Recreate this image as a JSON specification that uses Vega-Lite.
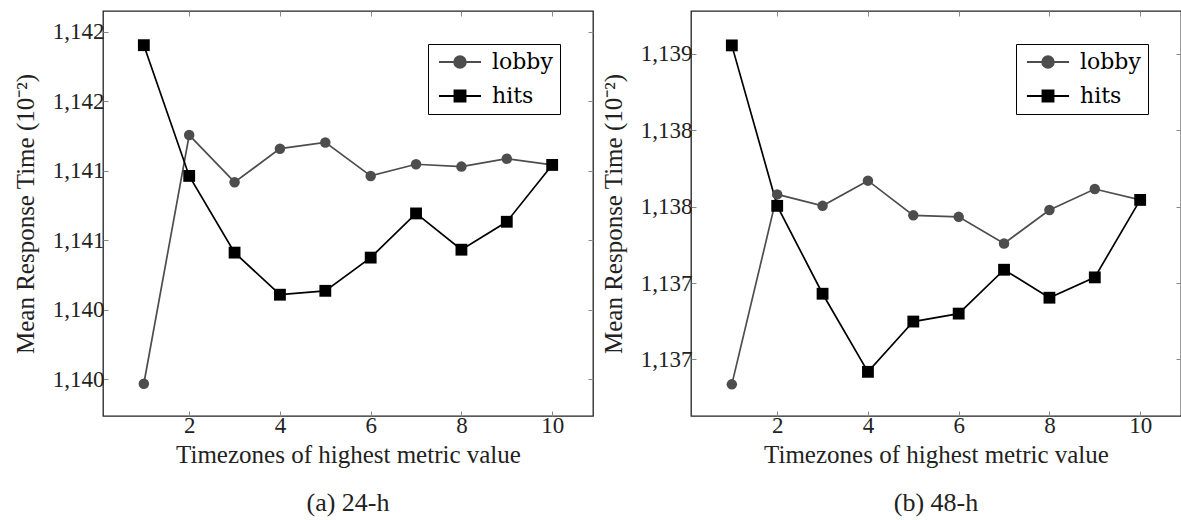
{
  "$schema": "https://vega.github.io/schema/vega-lite/v6.json",
  "padding": {"left": 12, "top": 9, "right": 0, "bottom": 0},
  "config": {
    "font": "Liberation Serif, Times New Roman, serif",
    "view": {"stroke": "#222222", "strokeWidth": 1.3},
    "axis": {
      "grid": false, "domain": false, "tickColor": "#888888", "tickSize": -5, "tickWidth": 1,
      "labelFont": "Liberation Serif, Times New Roman, serif", "labelFontSize": 23, "labelColor": "#222222",
      "titleFont": "Liberation Serif, Times New Roman, serif", "titleFontSize": 25, "titleFontWeight": "normal", "titleColor": "#222222"
    },
    "legend": {"labelFont": "DejaVu Serif"},
    "title": {"font": "Liberation Serif, Times New Roman, serif", "fontSize": 26, "fontWeight": "normal", "color": "#222222"}
  },
  "datasets": {
    "a": [
      {"zone": 1, "series": "lobby", "value": 1139.467},
      {"zone": 2, "series": "lobby", "value": 1141.257},
      {"zone": 3, "series": "lobby", "value": 1140.918},
      {"zone": 4, "series": "lobby", "value": 1141.159},
      {"zone": 5, "series": "lobby", "value": 1141.204},
      {"zone": 6, "series": "lobby", "value": 1140.963},
      {"zone": 7, "series": "lobby", "value": 1141.047},
      {"zone": 8, "series": "lobby", "value": 1141.030},
      {"zone": 9, "series": "lobby", "value": 1141.087},
      {"zone": 10, "series": "lobby", "value": 1141.042},
      {"zone": 1, "series": "hits", "value": 1141.904},
      {"zone": 2, "series": "hits", "value": 1140.963},
      {"zone": 3, "series": "hits", "value": 1140.411},
      {"zone": 4, "series": "hits", "value": 1140.108},
      {"zone": 5, "series": "hits", "value": 1140.136},
      {"zone": 6, "series": "hits", "value": 1140.375},
      {"zone": 7, "series": "hits", "value": 1140.693},
      {"zone": 8, "series": "hits", "value": 1140.432},
      {"zone": 9, "series": "hits", "value": 1140.633},
      {"zone": 10, "series": "hits", "value": 1141.042}
    ],
    "b": [
      {"zone": 1, "series": "lobby", "value": 1136.837},
      {"zone": 2, "series": "lobby", "value": 1138.080},
      {"zone": 3, "series": "lobby", "value": 1138.005},
      {"zone": 4, "series": "lobby", "value": 1138.170},
      {"zone": 5, "series": "lobby", "value": 1137.943},
      {"zone": 6, "series": "lobby", "value": 1137.933},
      {"zone": 7, "series": "lobby", "value": 1137.759},
      {"zone": 8, "series": "lobby", "value": 1137.978},
      {"zone": 9, "series": "lobby", "value": 1138.115},
      {"zone": 10, "series": "lobby", "value": 1138.044},
      {"zone": 1, "series": "hits", "value": 1139.055},
      {"zone": 2, "series": "hits", "value": 1138.005},
      {"zone": 3, "series": "hits", "value": 1137.430},
      {"zone": 4, "series": "hits", "value": 1136.919},
      {"zone": 5, "series": "hits", "value": 1137.248},
      {"zone": 6, "series": "hits", "value": 1137.300},
      {"zone": 7, "series": "hits", "value": 1137.587},
      {"zone": 8, "series": "hits", "value": 1137.404},
      {"zone": 9, "series": "hits", "value": 1137.537},
      {"zone": 10, "series": "hits", "value": 1138.044}
    ]
  },
  "spacing": 5,
  "resolve": {"scale": {"x": "independent", "y": "independent", "color": "independent"}, "legend": {"color": "independent"}},
  "hconcat": [
    {
      "width": 490, "height": 405,
      "data": {"name": "a"},
      "title": {"text": "(a) 24-h", "orient": "bottom", "offset": 23},
      "resolve": {"axis": {"x": "independent", "y": "independent"}},
      "layer": [
        {
          "mark": {"type": "line", "strokeWidth": 1.7},
          "encoding": {
            "x": {"field": "zone", "type": "quantitative", "scale": {"domain": [0.1, 10.9], "nice": false, "zero": false},
                  "axis": {"values": [2, 4, 6, 8, 10], "title": "Timezones of highest metric value", "labelPadding": 3, "titlePadding": 5}},
            "y": {"field": "value", "type": "quantitative", "scale": {"domain": [1139.235, 1142.15], "nice": false, "zero": false},
                  "axis": {"values": [1139.5, 1140, 1140.5, 1141, 1141.5, 1142], "labelExpr": "format(datum.value + 0.001, ',.0f')", "title": "Mean Response Time (10⁻²)", "labelPadding": 4, "titlePadding": 14}},
            "color": {"field": "series", "type": "nominal", "scale": {"domain": ["lobby", "hits"], "range": ["#4d4d4d", "#000000"]},
              "legend": {
                "orient": "none", "legendX": 325, "legendY": 33, "title": null,
                "symbolType": "stroke", "symbolSize": 137, "symbolStrokeWidth": 1.8, "symbolOffset": 14,
                "labelOffset": 21, "labelFont": "DejaVu Serif", "labelFontSize": 22, "labelColor": "#000000", "labelLimit": 200,
                "padding": 7, "rowPadding": 12, "strokeColor": "#000000", "fillColor": "#ffffff", "zindex": 5,
                "encoding": {
                  "symbols": {
                    "shape": {"condition": {"test": "datum.value === 'lobby'", "value": "M-3.6,0H3.6M1,0A1,1,0,1,1,-1,0A1,1,0,1,1,1,0Z"}, "value": "M-3.6,0H3.6M-0.95,-0.95H0.95V0.95H-0.95Z"},
                    "fill": {"condition": {"test": "datum.value === 'lobby'", "value": "#4d4d4d"}, "value": "#000000"}
                  }
                }
              }
            }
          }
        },
        {
          "transform": [{"filter": "datum.series === 'lobby'"}],
          "mark": {"type": "point", "shape": "circle", "filled": true, "size": 110, "color": "#4d4d4d", "opacity": 1},
          "encoding": {
            "x": {"field": "zone", "type": "quantitative", "axis": {"orient": "top", "labels": false, "title": null, "values": [2, 4, 6, 8, 10]}},
            "y": {"field": "value", "type": "quantitative", "axis": {"orient": "right", "labels": false, "title": null, "values": [1139.5, 1140, 1140.5, 1141, 1141.5, 1142]}}
          }
        },
        {
          "transform": [{"filter": "datum.series === 'hits'"}],
          "mark": {"type": "point", "shape": "square", "filled": true, "size": 140, "color": "#000000", "opacity": 1},
          "encoding": {
            "x": {"field": "zone", "type": "quantitative", "axis": null},
            "y": {"field": "value", "type": "quantitative", "axis": null}
          }
        }
      ]
    },
    {
      "width": 490, "height": 405,
      "data": {"name": "b"},
      "title": {"text": "(b) 48-h", "orient": "bottom", "offset": 23},
      "resolve": {"axis": {"x": "independent", "y": "independent"}},
      "layer": [
        {
          "mark": {"type": "line", "strokeWidth": 1.7},
          "encoding": {
            "x": {"field": "zone", "type": "quantitative", "scale": {"domain": [0.1, 10.9], "nice": false, "zero": false},
                  "axis": {"values": [2, 4, 6, 8, 10], "title": "Timezones of highest metric value", "labelPadding": 3, "titlePadding": 5}},
            "y": {"field": "value", "type": "quantitative", "scale": {"domain": [1136.63, 1139.28], "nice": false, "zero": false},
                  "axis": {"values": [1137, 1137.5, 1138, 1138.5, 1139], "labelExpr": "format(datum.value - 0.001, ',.0f')", "title": "Mean Response Time (10⁻²)", "labelPadding": 4, "titlePadding": 14}},
            "color": {"field": "series", "type": "nominal", "scale": {"domain": ["lobby", "hits"], "range": ["#4d4d4d", "#000000"]},
              "legend": {
                "orient": "none", "legendX": 325, "legendY": 33, "title": null,
                "symbolType": "stroke", "symbolSize": 137, "symbolStrokeWidth": 1.8, "symbolOffset": 14,
                "labelOffset": 21, "labelFont": "DejaVu Serif", "labelFontSize": 22, "labelColor": "#000000", "labelLimit": 200,
                "padding": 7, "rowPadding": 12, "strokeColor": "#000000", "fillColor": "#ffffff", "zindex": 5,
                "encoding": {
                  "symbols": {
                    "shape": {"condition": {"test": "datum.value === 'lobby'", "value": "M-3.6,0H3.6M1,0A1,1,0,1,1,-1,0A1,1,0,1,1,1,0Z"}, "value": "M-3.6,0H3.6M-0.95,-0.95H0.95V0.95H-0.95Z"},
                    "fill": {"condition": {"test": "datum.value === 'lobby'", "value": "#4d4d4d"}, "value": "#000000"}
                  }
                }
              }
            }
          }
        },
        {
          "transform": [{"filter": "datum.series === 'lobby'"}],
          "mark": {"type": "point", "shape": "circle", "filled": true, "size": 110, "color": "#4d4d4d", "opacity": 1},
          "encoding": {
            "x": {"field": "zone", "type": "quantitative", "axis": {"orient": "top", "labels": false, "title": null, "values": [2, 4, 6, 8, 10]}},
            "y": {"field": "value", "type": "quantitative", "axis": {"orient": "right", "labels": false, "title": null, "values": [1137, 1137.5, 1138, 1138.5, 1139]}}
          }
        },
        {
          "transform": [{"filter": "datum.series === 'hits'"}],
          "mark": {"type": "point", "shape": "square", "filled": true, "size": 140, "color": "#000000", "opacity": 1},
          "encoding": {
            "x": {"field": "zone", "type": "quantitative", "axis": null},
            "y": {"field": "value", "type": "quantitative", "axis": null}
          }
        }
      ]
    }
  ]
}
